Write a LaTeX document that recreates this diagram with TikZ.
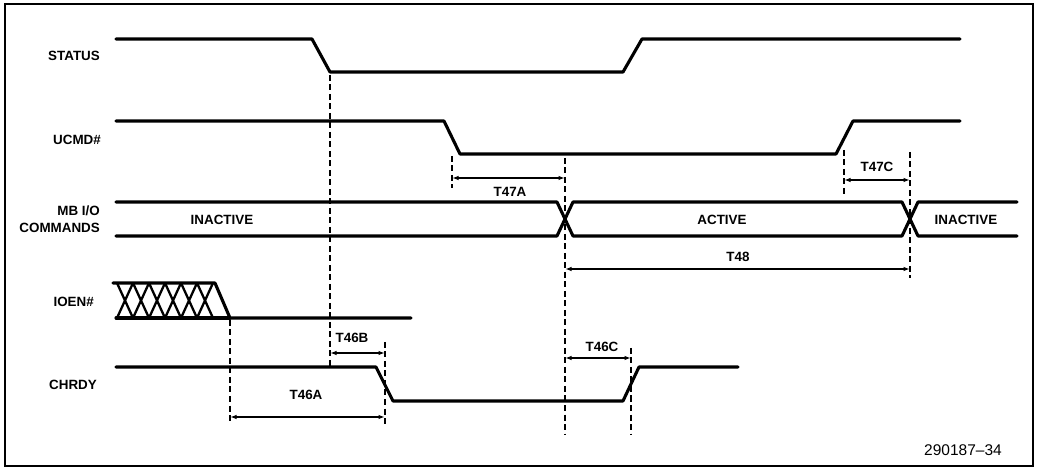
\documentclass[tikz,border=0pt]{standalone}
\usepackage{fontspec}
\setmainfont{Liberation Sans}
\usetikzlibrary{arrows.meta}
\begin{document}
\begin{tikzpicture}[x=1pt,y=-1pt,
  sig/.style={line width=3.1pt,line cap=round,line join=round},
  hatch/.style={line width=2.3pt,line cap=round},
  guide/.style={line width=1.2pt,dash pattern=on 6pt off 3.5pt},
  dim/.style={line width=1.4pt,{Latex[length=6.5pt,width=4.5pt]}-{Latex[length=6.5pt,width=4.5pt]}},
  lab/.style={font=\bfseries\fontsize{13.4}{15}\selectfont,inner sep=0pt},
  siglab/.style={lab,anchor=east},
  frame/.style={line width=1.3pt}]
\useasboundingbox (0,0) rectangle (1042,470);
\draw[frame] (5,4) rectangle (1033,466);

% signals
\draw[sig] (116,39) -- (312,39) -- (330,72) -- (623,72) -- (642,39) -- (960,39);
\draw[sig] (116,121) -- (444,121) -- (460,154) -- (836,154) -- (853,121) -- (960,121);
\draw[sig] (116,202) -- (557,202) -- (573,236) -- (902,236) -- (918,202) -- (1017,202);
\draw[sig] (116,236) -- (557,236) -- (573,202) -- (902,202) -- (918,236) -- (1017,236);
\draw[sig] (113,283) -- (215,283) -- (230,318) -- (411,318);
\draw[sig] (116,318) -- (230,318);
\foreach \k in {0,...,5}{
  \draw[hatch] (117+16*\k,283) -- (133+16*\k,318);
  \draw[hatch] (117+16*\k,318) -- (133+16*\k,283);
}
\draw[sig] (116,367) -- (376,367) -- (393,401) -- (623,401) -- (639,367) -- (738,367);

% guide coordinates
\coordinate (g1t) at (330,75);  \coordinate (g1b) at (330,366);
\coordinate (g2t) at (452,156); \coordinate (g2b) at (452,188);
\coordinate (g3t) at (565,158); \coordinate (g3b) at (565,435);
\coordinate (g4t) at (844,150); \coordinate (g4b) at (844,196);
\coordinate (g5t) at (910,152); \coordinate (g5b) at (910,278);
\coordinate (g6t) at (230,320); \coordinate (g6b) at (230,424);
\coordinate (g7t) at (385,342); \coordinate (g7b) at (385,426);
\coordinate (g8t) at (631,348); \coordinate (g8b) at (631,435);
\foreach \g in {1,...,8}{\draw[guide] (g\g t) -- (g\g b);}

% dimension arrows
\coordinate (a47l) at (452,178); \coordinate (a47r) at (565,178);
\coordinate (c47l) at (844,180); \coordinate (c47r) at (910,180);
\coordinate (t48l) at (565,269); \coordinate (t48r) at (910,269);
\coordinate (a46l) at (230,417); \coordinate (a46r) at (385,417);
\coordinate (b46l) at (330,353); \coordinate (b46r) at (385,353);
\coordinate (c46l) at (565,358); \coordinate (c46r) at (631,358);
\draw[dim] (a47l) -- (a47r);
\draw[dim] (c47l) -- (c47r);
\draw[dim] (t48l) -- (t48r);
\draw[dim] (a46l) -- (a46r);
\draw[dim] (b46l) -- (b46r);
\draw[dim] (c46l) -- (c46r);

% labels
\node[siglab] (ls) at (100,56) {STATUS};
\node[siglab] (lu) at (101,140) {UCMD\#};
\node[siglab] (lm1) at (100,211) {MB I/O};
\node[siglab] (lm2) at (100,228) {COMMANDS};
\node[siglab] (li) at (94,302) {IOEN\#};
\node[siglab] (lc) at (97,385) {CHRDY};
\node[lab] (in1) at (222,220) {INACTIVE};
\node[lab] (act) at (722,220) {ACTIVE};
\node[lab] (in2) at (966,220) {INACTIVE};
\node[lab] (n47a) at (510,192) {T47A};
\node[lab] (n47c) at (877,167) {T47C};
\node[lab] (n48) at (738,257) {T48};
\node[lab] (n46a) at (306,395) {T46A};
\node[lab] (n46b) at (352,338) {T46B};
\node[lab] (n46c) at (602,347) {T46C};
\node[font=\fontsize{15.5}{17}\selectfont,inner sep=0pt] (fig) at (963,450) {290187--34};
\end{tikzpicture}
\end{document}
